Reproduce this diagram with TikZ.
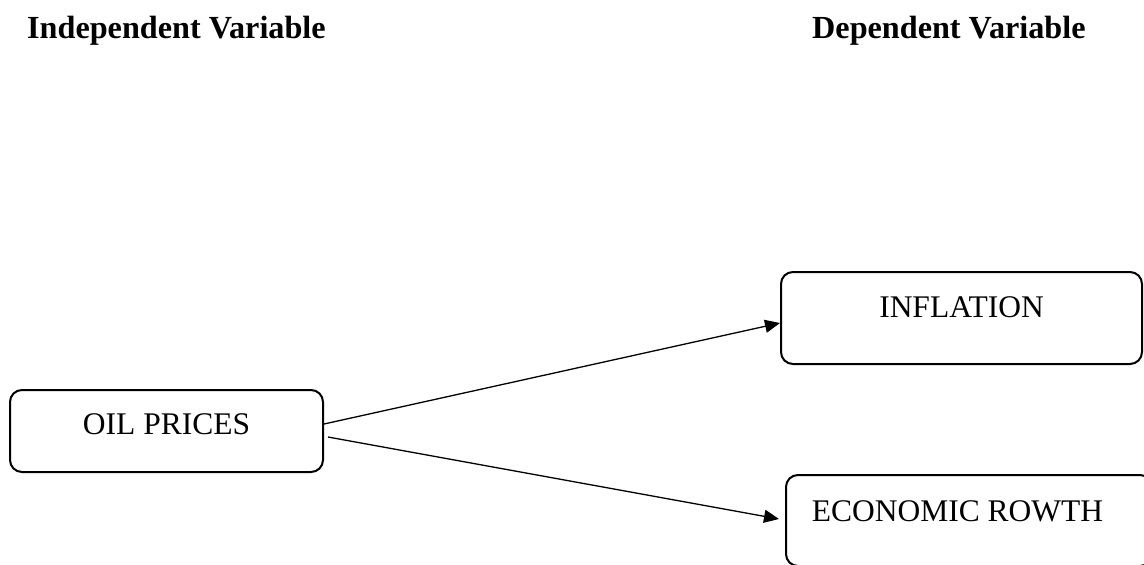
\documentclass[tikz,border=0pt]{standalone}
\usepackage{fontspec}
\setmainfont{Liberation Serif}
\usetikzlibrary{arrows.meta}
\begin{document}
\begin{tikzpicture}[x=1pt,y=-1pt,
  varbox/.style={draw=black, line width=2pt, rounded corners=12pt, inner sep=0pt},
  lbl/.style={inner sep=0pt, font=\fontsize{31.5}{36}\selectfont},
  title/.style={inner sep=0pt, anchor=west, font=\fontsize{32.2}{36}\selectfont\bfseries},
  conn/.style={line width=1.3pt, -{Triangle[length=15pt,width=13pt]}}]
\useasboundingbox (0,0) rectangle (1144,565);
\node[title] (indep) at (27,31) {Independent Variable};
\node[title] (dep) at (812,31) {Dependent Variable};
\node[varbox, minimum width=313pt, minimum height=82pt] (oil) at (166.5,431) {};
\node[varbox, minimum width=361pt, minimum height=92pt] (infl) at (961.5,318) {};
\begin{scope}
\clip (0,0) rectangle (1144,565);
\node[varbox, minimum width=366pt, minimum height=91pt] (econ) at (969,520.5) {};
\end{scope}
\node[lbl] (oiltxt) at ([yshift=-35pt]oil.north) {OIL PRICES};
\node[lbl] (infltxt) at ([yshift=-36pt]infl.north) {INFLATION};
\node[lbl] (econtxt) at ([xshift=-11.5pt,yshift=-37pt]econ.north) {ECONOMIC ROWTH};
\draw[conn] ([yshift=7pt]oil.east) -- ([yshift=-5pt]infl.west);
\draw[conn] ([xshift=4pt,yshift=-6pt]oil.east) -- ([xshift=-6pt,yshift=1.5pt]econ.west);
\end{tikzpicture}
\end{document}
